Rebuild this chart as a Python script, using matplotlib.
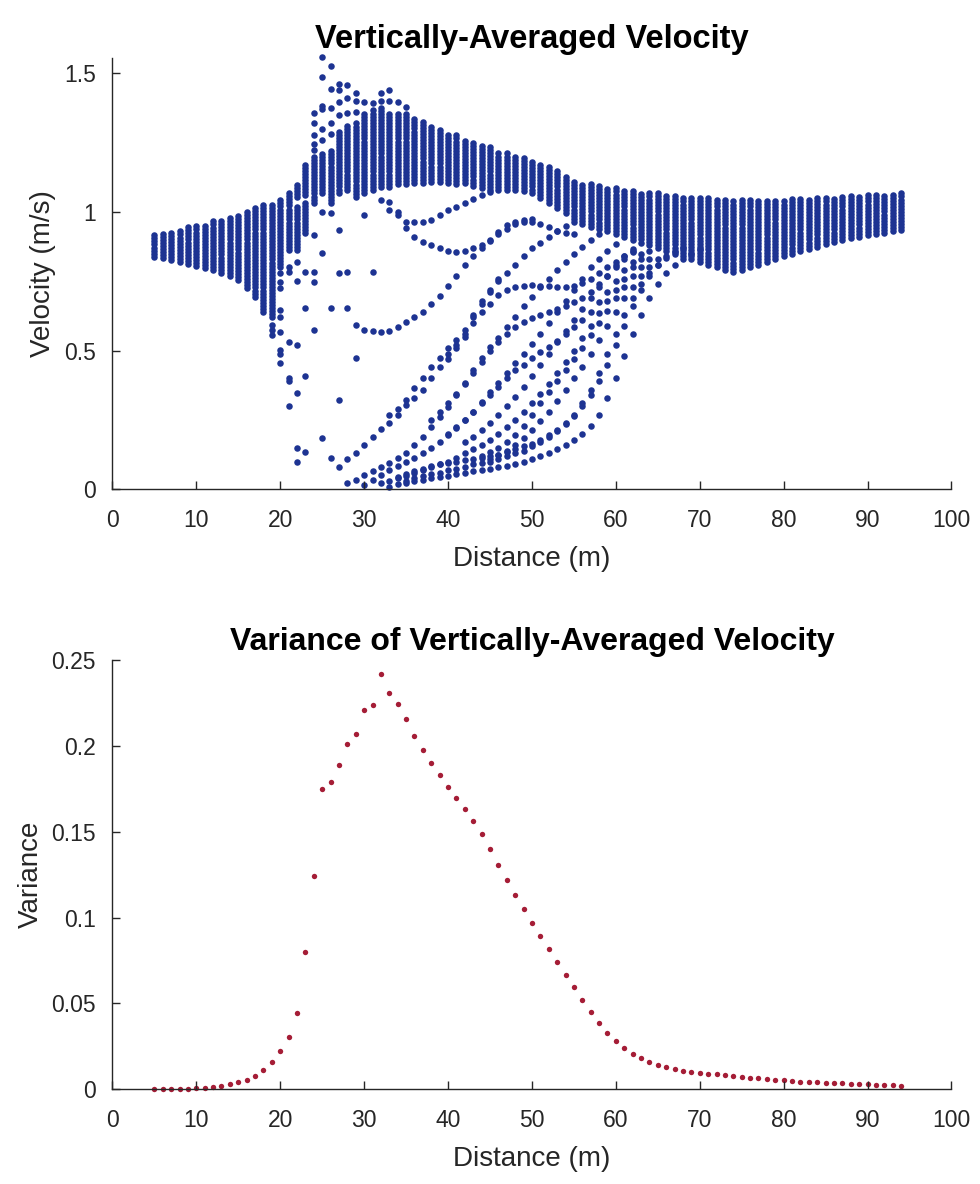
import numpy as np
import matplotlib.pyplot as plt

plt.rcParams['font.family'] = ['Liberation Sans', 'DejaVu Sans']

# distance stations (m)
dist = list(range(5, 95))

# dense band of velocities at each station (upper / lower edge)
band_hi = [0.923, 0.928, 0.933, 0.940, 0.947, 0.956, 0.961, 0.970, 0.977, 0.986,
           0.995, 1.005, 1.017, 1.025, 1.037, 1.049, 1.070, 1.106, 1.180, 1.205,
           1.217, 1.223, 1.300, 1.320, 1.325, 1.356, 1.375, 1.380, 1.362, 1.362,
           1.360, 1.344, 1.335, 1.310, 1.298, 1.284, 1.277, 1.265, 1.259, 1.248,
           1.238, 1.217, 1.212, 1.207, 1.200, 1.187, 1.178, 1.163, 1.151, 1.133,
           1.115, 1.106, 1.101, 1.096, 1.091, 1.088, 1.083, 1.077, 1.074, 1.070,
           1.068, 1.066, 1.061, 1.058, 1.055, 1.053, 1.052, 1.050, 1.049, 1.048,
           1.047, 1.046, 1.046, 1.046, 1.047, 1.048, 1.049, 1.050, 1.052, 1.054,
           1.055, 1.057, 1.058, 1.060, 1.061, 1.063, 1.065, 1.066, 1.068, 1.070]
band_lo = [0.839, 0.834, 0.827, 0.820, 0.813, 0.805, 0.797, 0.790, 0.781, 0.769,
           0.755, 0.725, 0.695, 0.640, 0.620, 0.800, 1.025, 1.055, 1.061, 1.067,
           1.067, 1.032, 1.070, 1.080, 1.055, 1.067, 1.080, 1.090, 1.091, 1.100,
           1.100, 1.103, 1.105, 1.109, 1.109, 1.103, 1.100, 1.103, 1.095, 1.085,
           1.080, 1.079, 1.079, 1.079, 1.075, 1.070, 1.050, 1.031, 1.015, 0.995,
           0.965, 0.955, 0.947, 0.940, 0.930, 0.920, 0.910, 0.900, 0.890, 0.880,
           0.870, 0.860, 0.850, 0.840, 0.830, 0.820, 0.810, 0.800, 0.790, 0.785,
           0.790, 0.800, 0.810, 0.820, 0.830, 0.840, 0.850, 0.860, 0.868, 0.875,
           0.884, 0.893, 0.899, 0.905, 0.911, 0.917, 0.920, 0.925, 0.930, 0.935]

# lower branch of the band where it splits
split_x = [21, 22, 23, 24]
split_lo = [0.863, 0.863, 0.923, 1.031]
split_hi = [1.007, 1.019, 1.043, 1.055]

# isolated points
out_x = [19, 19, 19,
         20, 20, 20, 20, 20, 20, 20, 20, 20,
         21, 21, 21, 21, 21, 21,
         22, 22, 22, 22, 22, 22,
         23, 23, 23, 23,
         24, 24, 24, 24, 24, 24, 24, 24, 24,
         25, 25, 25, 25, 25, 25, 25, 25, 25,
         26, 26, 26, 26, 26, 26, 26,
         27, 27, 27, 27, 27, 27, 27,
         28, 28, 28, 28,
         29, 29, 29, 29,
         30, 30, 31, 31, 32, 32, 33, 33, 34, 35]
out_v = [0.593, 0.575, 0.557,
         0.779, 0.749, 0.725, 0.647, 0.623, 0.569, 0.503, 0.490, 0.456,
         0.800, 0.785, 0.530, 0.400, 0.390, 0.300,
         0.820, 0.750, 0.520, 0.349, 0.148, 0.100,
         0.785, 0.653, 0.410, 0.136,
         1.356, 1.322, 1.277, 1.245, 1.223, 0.917, 0.785, 0.749, 0.575,
         1.560, 1.486, 1.382, 1.370, 1.300, 1.260, 1.000, 0.852, 0.185,
         1.526, 1.442, 1.374, 1.320, 1.280, 0.996, 0.653,
         1.460, 1.440, 1.397, 1.350, 0.935, 0.779, 0.323,
         1.457, 1.410, 1.358, 0.785,
         1.428, 1.400, 1.360, 0.473,
         1.397, 0.989, 1.393, 0.785, 1.428, 1.400, 1.440, 1.400, 1.397, 1.380]

# individual realisations that leave the band (start station, values)
curve_a = (28, [0.653, 0.593, 0.575, 0.572, 0.569, 0.572, 0.584, 0.602, 0.620, 0.641,
                0.667, 0.698, 0.734, 0.769, 0.809, 0.840, 0.870, 0.895, 0.920, 0.940,
                0.955, 0.965, 0.975])
curve_b1 = (32, [1.043, 1.037, 1.000, 0.965, 0.965, 0.965, 0.971, 0.989, 1.007, 1.019,
                 1.031, 1.046, 1.061, 1.073])
curve_b2 = (33, [1.007, 0.989, 0.941, 0.911, 0.893, 0.881, 0.869, 0.861, 0.857, 0.861,
                 0.869, 0.881, 0.899, 0.929, 0.953, 0.965, 0.970, 0.963, 0.955, 0.945,
                 0.930, 0.925, 0.920])
curve_d1 = (26, [0.112, 0.082, 0.109, 0.133, 0.160, 0.188, 0.218, 0.239, 0.269, 0.305,
                 0.330, 0.360, 0.400, 0.440, 0.470, 0.510, 0.550, 0.620, 0.670, 0.710,
                 0.750, 0.780, 0.810, 0.840, 0.870, 0.890, 0.910, 0.930, 0.950])
curve_d1b = (33, [0.270, 0.290, 0.323, 0.364, 0.400, 0.443, 0.473, 0.510, 0.540, 0.575,
                  0.630, 0.680, 0.720, 0.760])
curve_d2 = (28, [0.025, 0.034, 0.052, 0.067, 0.082, 0.094, 0.112, 0.130, 0.160, 0.190,
                 0.226, 0.262, 0.298, 0.340, 0.383, 0.430, 0.473, 0.512, 0.545, 0.587,
                 0.623, 0.660, 0.695, 0.730, 0.760, 0.790, 0.820, 0.850, 0.875, 0.900,
                 0.920])
curve_d3 = (30, [0.016, 0.034, 0.052, 0.070, 0.085, 0.100, 0.115, 0.130, 0.150, 0.170,
                 0.195, 0.220, 0.250, 0.280, 0.315, 0.350, 0.385, 0.420, 0.455, 0.490,
                 0.525, 0.560, 0.600, 0.640, 0.680, 0.720, 0.760, 0.800, 0.830, 0.860,
                 0.885])
curve_d4 = (32, [0.022, 0.030, 0.040, 0.050, 0.060, 0.070, 0.080, 0.090, 0.100, 0.115,
                 0.130, 0.145, 0.160, 0.180, 0.200, 0.225, 0.250, 0.280, 0.310, 0.345,
                 0.380, 0.420, 0.460, 0.500, 0.545, 0.590, 0.635, 0.680, 0.720, 0.760,
                 0.800, 0.830, 0.860])
curve_d5 = (33, [0.010, 0.020, 0.030, 0.040, 0.050, 0.055, 0.060, 0.070, 0.075, 0.080,
                 0.090, 0.095, 0.100, 0.110, 0.120, 0.130, 0.140, 0.155, 0.170, 0.190,
                 0.210, 0.235, 0.265, 0.300, 0.340, 0.390, 0.450, 0.520, 0.590, 0.660,
                 0.720, 0.770, 0.810, 0.840])
curve_f1 = (35, [0.025, 0.030, 0.035, 0.040, 0.045, 0.050, 0.055, 0.060, 0.065, 0.070,
                 0.075, 0.080, 0.085, 0.090, 0.100, 0.110, 0.120, 0.130, 0.145, 0.160,
                 0.180, 0.200, 0.230, 0.270, 0.330, 0.400, 0.480, 0.560, 0.630, 0.690,
                 0.740, 0.780, 0.810, 0.830, 0.850, 0.865])
curve_f2 = (34, [0.045, 0.055, 0.065, 0.075, 0.085, 0.090, 0.095, 0.100, 0.105, 0.110,
                 0.115, 0.120, 0.125, 0.135, 0.145, 0.155, 0.165, 0.180, 0.195, 0.215,
                 0.240, 0.270, 0.310, 0.360, 0.420, 0.490, 0.560, 0.630, 0.690, 0.740,
                 0.780, 0.810, 0.835, 0.855, 0.870])
curve_e1 = (40, [0.490, 0.520, 0.560, 0.600, 0.640, 0.670, 0.700, 0.720, 0.730, 0.735,
                 0.737, 0.735, 0.733, 0.730, 0.730, 0.735, 0.745, 0.760, 0.780, 0.800,
                 0.820, 0.840, 0.860])
curve_e2 = (38, [0.250, 0.280, 0.310, 0.345, 0.380, 0.420, 0.460, 0.500, 0.530, 0.560,
                 0.585, 0.605, 0.618, 0.630, 0.640, 0.650, 0.660, 0.675, 0.690, 0.710,
                 0.740, 0.770, 0.800, 0.830, 0.855])
curve_e3 = (40, [0.200, 0.225, 0.250, 0.280, 0.310, 0.340, 0.370, 0.400, 0.430, 0.450,
                 0.474, 0.495, 0.515, 0.535, 0.560, 0.585, 0.610, 0.640, 0.675, 0.710,
                 0.750, 0.790, 0.820, 0.850])
curve_e4 = (42, [0.170, 0.190, 0.215, 0.240, 0.270, 0.300, 0.335, 0.370, 0.410, 0.450,
                 0.490, 0.530, 0.570, 0.610, 0.650, 0.690, 0.730, 0.770, 0.810, 0.840,
                 0.865])
curve_e5 = (44, [0.120, 0.135, 0.150, 0.170, 0.195, 0.230, 0.270, 0.310, 0.350, 0.390,
                 0.430, 0.470, 0.510, 0.555, 0.600, 0.645, 0.690, 0.730, 0.770, 0.800,
                 0.830])
curve_e6 = (45, [0.110, 0.125, 0.140, 0.160, 0.185, 0.214, 0.245, 0.280, 0.320, 0.360,
                 0.400, 0.440, 0.490, 0.540, 0.590, 0.640, 0.690, 0.730, 0.770, 0.800,
                 0.830])
curves = [curve_a, curve_b1, curve_b2, curve_d1, curve_d1b, curve_d2, curve_d3, curve_d4,
          curve_d5, curve_f1, curve_f2, curve_e1, curve_e2, curve_e3, curve_e4, curve_e5,
          curve_e6]

# variance of the vertically averaged velocity
variance = [0.0000, 0.0000, 0.0002, 0.0002, 0.0004, 0.0006, 0.0010, 0.0014, 0.0020, 0.0030,
            0.0040, 0.0056, 0.0080, 0.0110, 0.0160, 0.0220, 0.0305, 0.0446, 0.0800, 0.1240,
            0.1750, 0.1790, 0.1890, 0.2010, 0.2070, 0.2210, 0.2240, 0.2417, 0.2306, 0.2244,
            0.2155, 0.2056, 0.1976, 0.1902, 0.1830, 0.1762, 0.1698, 0.1632, 0.1562, 0.1485,
            0.1398, 0.1306, 0.1219, 0.1130, 0.1048, 0.0967, 0.0891, 0.0815, 0.0741, 0.0668,
            0.0594, 0.0522, 0.0452, 0.0388, 0.0330, 0.0281, 0.0241, 0.0208, 0.0181, 0.0159,
            0.0140, 0.0128, 0.0116, 0.0109, 0.0101, 0.0097, 0.0091, 0.0087, 0.0083, 0.0078,
            0.0072, 0.0068, 0.0064, 0.0060, 0.0056, 0.0052, 0.0049, 0.0045, 0.0043, 0.0041,
            0.0039, 0.0037, 0.0035, 0.0033, 0.0033, 0.0029, 0.0027, 0.0025, 0.0023, 0.0021]

blue = '#1d3392'
red = '#a51d36'
axcol = '#262626'

px, pv = [], []
for x, lo, hi in zip(dist, band_lo, band_hi):
    for v in np.arange(lo, hi + 1e-9, 0.011):
        px.append(x)
        pv.append(v)
for x, lo, hi in zip(split_x, split_lo, split_hi):
    for v in np.arange(lo, hi + 1e-9, 0.011):
        px.append(x)
        pv.append(v)
for x0, vals in curves:
    for i, v in enumerate(vals):
        px.append(x0 + i)
        pv.append(v)
px += out_x
pv += out_v

fig = plt.figure(figsize=(9.8, 11.84), dpi=100)
ax1 = fig.add_axes([0.1147, 0.5866, 0.8562, 0.3644])
ax2 = fig.add_axes([0.1147, 0.0800, 0.8562, 0.3626])

ax1.scatter(px, pv, s=22, c=blue, linewidths=0, clip_on=False)
ax1.set_xlim(0, 100)
ax1.set_ylim(0, 1.555)
ax1.set_yticks([0, 0.5, 1, 1.5])
ax1.set_yticklabels(['0', '0.5', '1', '1.5'])
ax1.set_title('Vertically-Averaged Velocity', fontsize=23.5, fontweight='bold', pad=7)
ax1.set_xlabel('Distance (m)', fontsize=20, color=axcol, va='top')
ax1.set_ylabel('Velocity (m/s)', fontsize=20, color=axcol)
ax1.xaxis.set_label_coords(0.5, -0.132)
ax1.yaxis.set_label_coords(-0.067, 0.5)

ax2.scatter(dist, variance, s=15, c=red, linewidths=0, clip_on=False)
ax2.set_xlim(0, 100)
ax2.set_ylim(0, 0.25)
ax2.set_yticks([0, 0.05, 0.1, 0.15, 0.2, 0.25])
ax2.set_yticklabels(['0', '0.05', '0.1', '0.15', '0.2', '0.25'])
ax2.set_title('Variance of Vertically-Averaged Velocity', fontsize=23, fontweight='bold', pad=7)
ax2.set_xlabel('Distance (m)', fontsize=20, color=axcol, va='top')
ax2.set_ylabel('Variance', fontsize=20, color=axcol)
ax2.xaxis.set_label_coords(0.5, -0.133)
ax2.yaxis.set_label_coords(-0.082, 0.5)

for ax in (ax1, ax2):
    ax.set_xticks(range(0, 101, 10))
    ax.spines['top'].set_visible(False)
    ax.spines['right'].set_visible(False)
    for s in ('left', 'bottom'):
        ax.spines[s].set_color(axcol)
        ax.spines[s].set_linewidth(1.0)
    ax.tick_params(direction='in', length=6, width=1.0, colors=axcol, labelsize=16.5)
    ax.tick_params(axis='x', pad=14)
    ax.tick_params(axis='y', pad=12)

fig.savefig('out.png', dpi=100)
